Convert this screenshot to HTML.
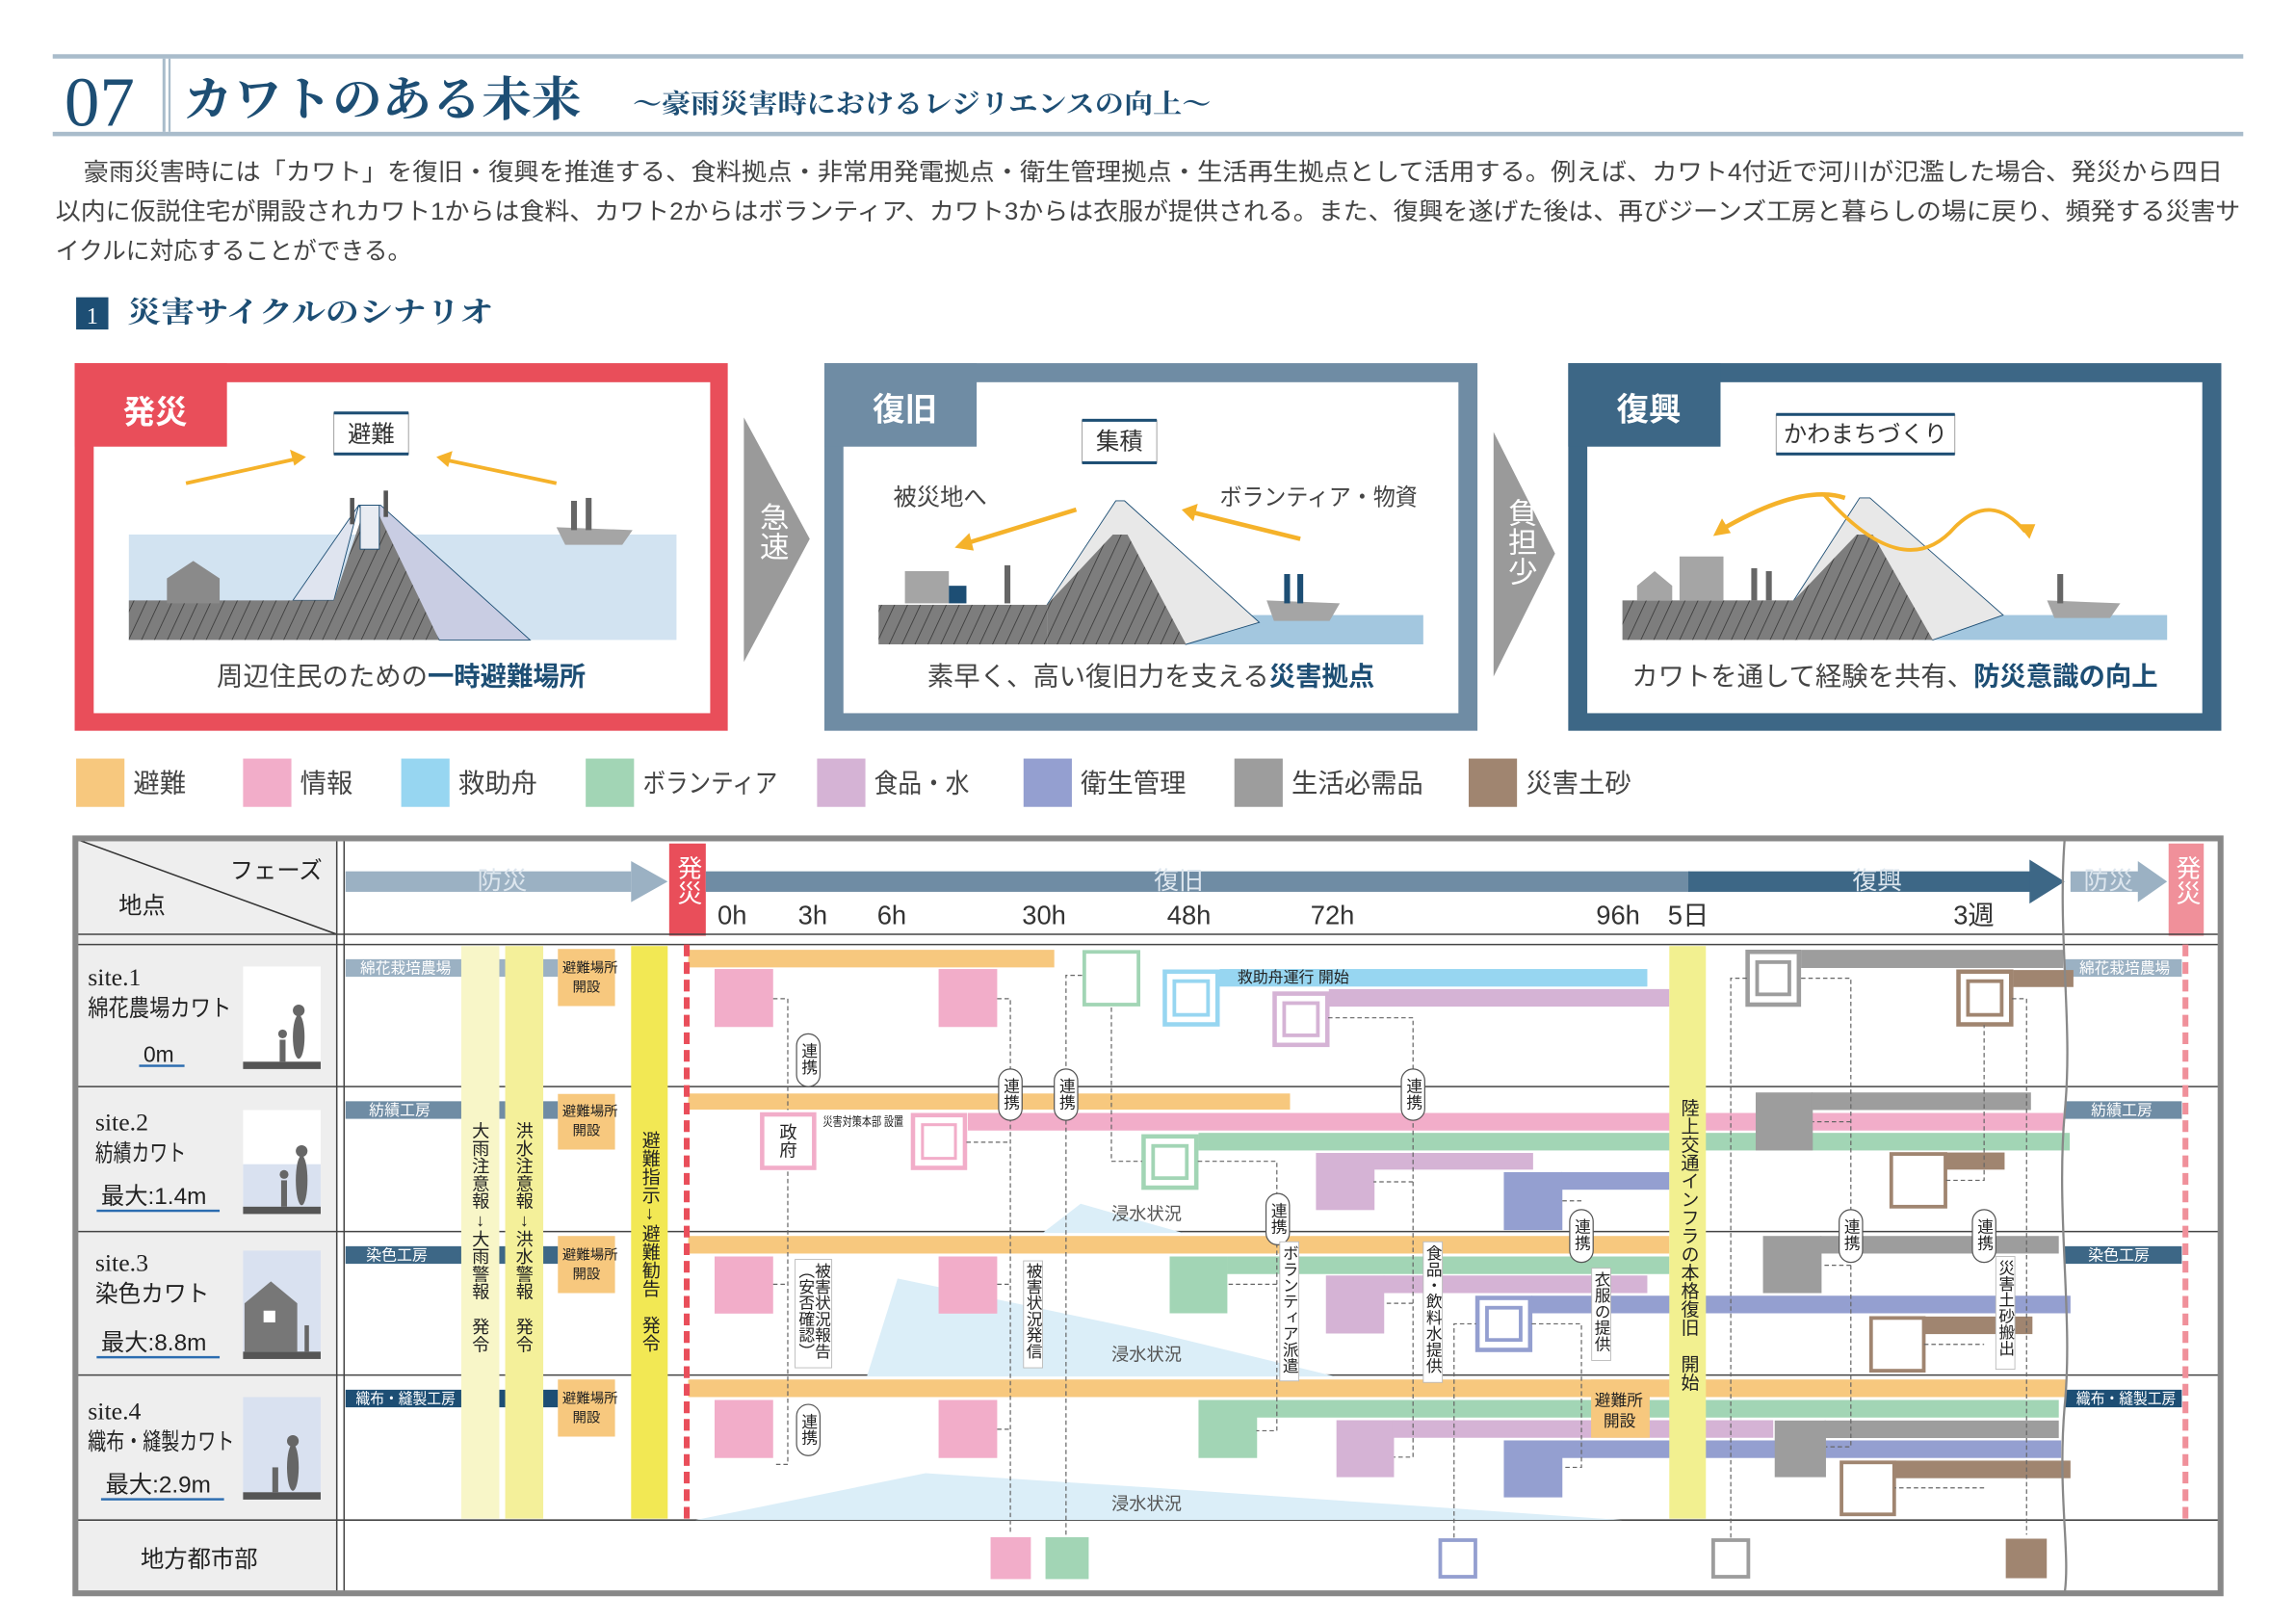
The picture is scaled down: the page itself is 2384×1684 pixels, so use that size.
<!DOCTYPE html>
<html><head><meta charset="utf-8"><style>
html,body{margin:0;padding:0;background:#fff;}
svg{display:block;}
text{font-family:"Liberation Sans","Noto Sans CJK JP",sans-serif;}
.v{writing-mode:vertical-rl;text-orientation:upright;}
.serif{font-family:"Liberation Serif","Noto Serif CJK SC",serif;}
</style></head><body>
<svg width="2384" height="1684" viewBox="0 0 1568 1107.6" preserveAspectRatio="none" xmlns="http://www.w3.org/2000/svg">
<defs>
<pattern id="hatch" width="8" height="8" patternUnits="userSpaceOnUse" patternTransform="rotate(25)">
<rect width="8" height="8" fill="#7d7d7d"/><line x1="0" y1="0" x2="0" y2="8" stroke="#333" stroke-width="1"/>
</pattern>
</defs>
<rect width="1568" height="1108" fill="#fff"/>

<!-- Header -->
<rect x="36" y="37" width="1496" height="3" fill="#a9bccb"/>
<rect x="36" y="90" width="1496" height="3" fill="#a9bccb"/>
<rect x="111" y="40" width="2" height="50" fill="#a9bccb"/>
<rect x="115" y="40" width="1.5" height="50" fill="#a9bccb"/>
<text x="44" y="86" class="serif" font-size="48" fill="#1d4e74">07</text>
<text x="125" y="79" class="serif" font-size="32" font-weight="bold" fill="#1d4e74" textLength="272" lengthAdjust="spacingAndGlyphs">カワトのある未来</text>
<text x="432" y="77" class="serif" font-size="18" font-weight="bold" fill="#1d4e74" textLength="395" lengthAdjust="spacingAndGlyphs">～豪雨災害時におけるレジリエンスの向上～</text>

<!-- paragraph -->
<g font-size="16.5" fill="#444">
<text x="57" y="123" textLength="1461" lengthAdjust="spacingAndGlyphs">豪雨災害時には「カワト」を復旧・復興を推進する、食料拠点・非常用発電拠点・衛生管理拠点・生活再生拠点として活用する。例えば、カワト4付近で河川が氾濫した場合、発災から四日</text>
<text x="38" y="150" textLength="1492" lengthAdjust="spacingAndGlyphs">以内に仮説住宅が開設されカワト1からは食料、カワト2からはボランティア、カワト3からは衣服が提供される。また、復興を遂げた後は、再びジーンズ工房と暮らしの場に戻り、頻発する災害サ</text>
<text x="38" y="177" textLength="243" lengthAdjust="spacingAndGlyphs">イクルに対応することができる。</text>
</g>

<!-- section title -->
<rect x="52" y="203" width="22" height="22" fill="#1d4e74"/>
<text x="63" y="221" text-anchor="middle" font-size="16" fill="#fff" class="serif">1</text>
<text x="87" y="220" class="serif" font-size="20" font-weight="bold" fill="#1d4e74" textLength="250" lengthAdjust="spacingAndGlyphs">災害サイクルのシナリオ</text>

<!-- Panel 1 -->
<rect x="51" y="248" width="446" height="251" fill="#e94e5a"/>
<rect x="64" y="261" width="421" height="226" fill="#fff"/>
<rect x="51" y="248" width="104" height="57" fill="#e94e5a"/>
<text x="84" y="289" font-size="22" font-weight="bold" fill="#fff">発災</text>
<rect x="228" y="282" width="51" height="28" fill="#fff" stroke="#999" stroke-width="0.6"/>
<rect x="228" y="281" width="51" height="2" fill="#1d4e74"/><rect x="228" y="309" width="51" height="2" fill="#1d4e74"/>
<text x="253.5" y="302" text-anchor="middle" font-size="16" fill="#333">避難</text>
<rect x="88" y="365" width="374" height="72" fill="#d2e3f1"/>
<polygon points="245,345 260,345 362,437 300,437" fill="#c9cde3" stroke="#1d4e74" stroke-width="0.6"/>
<polygon points="245,345 200,410 228,410" fill="#dfe4ef" stroke="#1d4e74" stroke-width="0.6"/>
<rect x="88" y="410" width="145" height="27" fill="url(#hatch)"/>
<polygon points="228,437 228,410 248,350 258,350 300,437" fill="url(#hatch)"/>
<rect x="246" y="345" width="13" height="30" fill="#e8ecf2" stroke="#1d4e74" stroke-width="0.6"/>
<polygon points="114,412 114,395 132,383 150,395 150,412" fill="#8a8a8a"/>
<polygon points="380,360 432,362 425,372 386,372" fill="#a5a5a5"/>
<rect x="390" y="342" width="4" height="20" fill="#666"/><rect x="400" y="340" width="4" height="22" fill="#666"/>
<rect x="239" y="340" width="3" height="18" fill="#555"/><rect x="262" y="335" width="3" height="18" fill="#555"/>
<line x1="127" y1="330" x2="204" y2="313" stroke="#f5b22a" stroke-width="2.5"/><polygon points="209,312 198,307 201,318" fill="#f5b22a"/>
<line x1="380" y1="330" x2="304" y2="314" stroke="#f5b22a" stroke-width="2.5"/><polygon points="298,312 309,308 306,319" fill="#f5b22a"/>
<text x="274" y="468" text-anchor="middle" font-size="18" fill="#444">周辺住民のための<tspan font-weight="bold" fill="#1d4e74">一時避難場所</tspan></text>

<!-- chevron 1 -->
<polygon points="508,285 553,368 508,452" fill="#9a9a9a"/>
<text x="527" y="343" class="v" font-size="20" fill="#fff">急速</text>

<!-- Panel 2 -->
<rect x="563" y="248" width="446" height="251" fill="#6f8ca4"/>
<rect x="576" y="261" width="420" height="226" fill="#fff"/>
<rect x="563" y="248" width="104" height="57" fill="#6f8ca4"/>
<text x="596" y="287" font-size="22" font-weight="bold" fill="#fff">復旧</text>
<rect x="739" y="287" width="51" height="29" fill="#fff" stroke="#999" stroke-width="0.6"/>
<rect x="739" y="286" width="51" height="2" fill="#1d4e74"/><rect x="739" y="315" width="51" height="2" fill="#1d4e74"/>
<text x="764.5" y="307" text-anchor="middle" font-size="16" fill="#333">集積</text>
<text x="610" y="345" font-size="16" fill="#444">被災地へ</text>
<text x="833" y="345" font-size="16" fill="#444" textLength="135" lengthAdjust="spacingAndGlyphs">ボランティア・物資</text>
<rect x="800" y="420" width="172" height="20" fill="#a3c7df"/>
<polygon points="762,342 768,342 860,425 810,440 715,413" fill="#e8e8e8" stroke="#1d4e74" stroke-width="0.6"/>
<rect x="600" y="413" width="115" height="27" fill="url(#hatch)"/>
<polygon points="715,440 715,413 760,365 770,365 810,440" fill="url(#hatch)"/>
<rect x="618" y="390" width="30" height="22" fill="#a5a5a5"/><rect x="648" y="400" width="12" height="12" fill="#1d4e74"/>
<rect x="686" y="386" width="4" height="26" fill="#666"/>
<polygon points="865,410 915,412 908,424 870,424" fill="#a5a5a5"/>
<rect x="877" y="392" width="4" height="20" fill="#1d4e74"/><rect x="886" y="392" width="4" height="20" fill="#1d4e74"/>
<line x1="735" y1="348" x2="660" y2="371" stroke="#f5b22a" stroke-width="3"/><polygon points="652,374 662,364 665,376" fill="#f5b22a"/>
<line x1="888" y1="368" x2="815" y2="350" stroke="#f5b22a" stroke-width="3"/><polygon points="807,348 818,344 815,356" fill="#f5b22a"/>
<text x="786" y="468" text-anchor="middle" font-size="18" fill="#444">素早く、高い復旧力を支える<tspan font-weight="bold" fill="#1d4e74">災害拠点</tspan></text>

<!-- chevron 2 -->
<polygon points="1020,295 1062,378 1020,462" fill="#9a9a9a"/>
<text x="1038" y="340" class="v" font-size="20" fill="#fff">負担少</text>

<!-- Panel 3 -->
<rect x="1071" y="248" width="446" height="251" fill="#3d6786"/>
<rect x="1084" y="261" width="420" height="226" fill="#fff"/>
<rect x="1071" y="248" width="104" height="57" fill="#3d6786"/>
<text x="1104" y="287" font-size="22" font-weight="bold" fill="#fff">復興</text>
<rect x="1213" y="283" width="122" height="27" fill="#fff" stroke="#999" stroke-width="0.6"/>
<rect x="1213" y="282" width="122" height="2" fill="#1d4e74"/><rect x="1213" y="309" width="122" height="2" fill="#1d4e74"/>
<text x="1274" y="302" text-anchor="middle" font-size="16" fill="#333">かわまちづくり</text>
<rect x="1310" y="420" width="170" height="17" fill="#a3c7df"/>
<polygon points="1270,340 1277,340 1368,420 1320,437 1225,410" fill="#e8e8e8" stroke="#1d4e74" stroke-width="0.6"/>
<rect x="1108" y="410" width="120" height="27" fill="url(#hatch)"/>
<polygon points="1225,437 1225,410 1268,365 1279,365 1320,437" fill="url(#hatch)"/>
<rect x="1147" y="380" width="30" height="30" fill="#a5a5a5"/>
<polygon points="1118,410 1118,400 1130,390 1142,400 1142,410" fill="#a5a5a5"/>
<rect x="1196" y="388" width="4" height="22" fill="#666"/><rect x="1206" y="390" width="4" height="20" fill="#666"/>
<polygon points="1398,410 1448,412 1441,422 1403,422" fill="#a5a5a5"/><rect x="1405" y="392" width="4" height="20" fill="#666"/>
<path d="M1260,340 Q1230,330 1175,362" stroke="#f5b22a" stroke-width="3" fill="none"/><polygon points="1170,366 1176,354 1182,364" fill="#f5b22a"/>
<path d="M1245,337 Q1300,400 1335,360 Q1360,335 1383,363" stroke="#f5b22a" stroke-width="2.5" fill="none"/><polygon points="1386,368 1378,358 1390,358" fill="#f5b22a"/>
<text x="1294" y="468" text-anchor="middle" font-size="18" fill="#444">カワトを通して経験を共有、<tspan font-weight="bold" fill="#1d4e74">防災意識の向上</tspan></text>

<!-- Legend -->
<g font-size="18" fill="#444">
<rect x="52" y="518" width="33" height="33" fill="#f7c87e"/><text x="91" y="541">避難</text>
<rect x="166" y="518" width="33" height="33" fill="#f2adc9"/><text x="205" y="541">情報</text>
<rect x="274" y="518" width="33" height="33" fill="#97d6f1"/><text x="313" y="541">救助舟</text>
<rect x="400" y="518" width="33" height="33" fill="#a2d5b5"/><text x="439" y="541" textLength="92" lengthAdjust="spacingAndGlyphs">ボランティア</text>
<rect x="558" y="518" width="33" height="33" fill="#d5b3d5"/><text x="597" y="541" textLength="65" lengthAdjust="spacingAndGlyphs">食品・水</text>
<rect x="699" y="518" width="33" height="33" fill="#949fd0"/><text x="738" y="541">衛生管理</text>
<rect x="843" y="518" width="33" height="33" fill="#9d9d9d"/><text x="882" y="541">生活必需品</text>
<rect x="1003" y="518" width="33" height="33" fill="#a08570"/><text x="1042" y="541">災害土砂</text>
</g>

<!-- TABLE -->
<rect x="52" y="573" width="178" height="515" fill="#eeeeee"/>
<line x1="52" y1="573" x2="230" y2="638" stroke="#333" stroke-width="1"/>
<text x="157" y="600" font-size="16" fill="#222">フェーズ</text>
<text x="81" y="624" font-size="16" fill="#222">地点</text>

<!-- header arrows -->
<rect x="236" y="595" width="195" height="14" fill="#9bb1c3"/>
<polygon points="431,588 456,602 431,616" fill="#9bb1c3"/>
<text x="343" y="607" text-anchor="middle" font-size="17" fill="#dde6ee">防災</text>
<rect x="457" y="576" width="25" height="63" fill="#e94e5a"/>
<text x="469.5" y="584" class="v" font-size="17" fill="#fff">発災</text>
<rect x="482" y="595" width="672" height="14" fill="#6f8ca4"/>
<rect x="1153" y="595" width="235" height="14" fill="#3d6786"/>
<polygon points="1386,587 1410,602 1386,617" fill="#3d6786"/>
<text x="805" y="607" text-anchor="middle" font-size="17" fill="#dde6ee">復旧</text>
<text x="1282" y="607" text-anchor="middle" font-size="17" fill="#dde6ee">復興</text>
<rect x="1414" y="595" width="48" height="14" fill="#9bb1c3"/>
<polygon points="1460,588 1480,602 1460,616" fill="#9bb1c3"/>
<text x="1440" y="607" text-anchor="middle" font-size="17" fill="#dde6ee">防災</text>
<rect x="1481" y="576" width="24" height="63" fill="#f0909a"/>
<text x="1493" y="584" class="v" font-size="17" fill="#fff">発災</text>
<g font-size="18" fill="#333">
<text x="490" y="631">0h</text><text x="545" y="631">3h</text><text x="599" y="631">6h</text><text x="698" y="631">30h</text>
<text x="797" y="631">48h</text><text x="895" y="631">72h</text><text x="1090" y="631">96h</text><text x="1139" y="631">5日</text><text x="1334" y="631">3週</text>
</g>

<!-- grid lines -->
<g stroke="#444" stroke-width="1">
<line x1="52" y1="638" x2="1516" y2="638"/><line x1="52" y1="645" x2="1516" y2="645"/>
<line x1="52" y1="742" x2="1516" y2="742"/>
<line x1="52" y1="841" x2="1516" y2="841"/>
<line x1="52" y1="939" x2="1516" y2="939"/>
<line x1="52" y1="1038" x2="1516" y2="1038"/>
<line x1="230" y1="573" x2="230" y2="1088"/><line x1="235" y1="573" x2="235" y2="1088"/>
</g>

<!-- left column -->
<g fill="#222">
<text x="60" y="673" font-size="17" class="serif">site.1</text><text x="60" y="694" font-size="16" textLength="98" lengthAdjust="spacingAndGlyphs">綿花農場カワト</text>
<text x="98" y="725" font-size="15">0m</text><rect x="95" y="727" width="31" height="1.6" fill="#2b6cb0"/>
<text x="65" y="772" font-size="17" class="serif">site.2</text><text x="65" y="793" font-size="16" textLength="62" lengthAdjust="spacingAndGlyphs">紡績カワト</text>
<text x="69" y="822" font-size="16">最大:1.4m</text><rect x="66" y="826" width="84" height="1.6" fill="#2b6cb0"/>
<text x="65" y="868" font-size="17" class="serif">site.3</text><text x="65" y="889" font-size="16" textLength="78" lengthAdjust="spacingAndGlyphs">染色カワト</text>
<text x="69" y="922" font-size="16">最大:8.8m</text><rect x="66" y="926" width="84" height="1.6" fill="#2b6cb0"/>
<text x="60" y="969" font-size="17" class="serif">site.4</text><text x="60" y="990" font-size="16" textLength="100" lengthAdjust="spacingAndGlyphs">織布・縫製カワト</text>
<text x="72" y="1019" font-size="16">最大:2.9m</text><rect x="69" y="1023" width="84" height="1.6" fill="#2b6cb0"/>
<text x="96" y="1070" font-size="16">地方都市部</text>
</g>
<!-- icons -->
<rect x="166" y="660" width="53" height="70" fill="#fff"/><rect x="166" y="725" width="53" height="5" fill="#555"/>
<ellipse cx="204" cy="708" rx="4" ry="15" fill="#666"/><circle cx="204" cy="690" r="4" fill="#666"/><rect x="191" y="710" width="4" height="15" fill="#666"/><circle cx="193" cy="706" r="3" fill="#666"/>
<rect x="166" y="758" width="53" height="71" fill="#fff"/><rect x="166" y="795" width="53" height="29" fill="#d9e1f0"/><rect x="166" y="824" width="53" height="5" fill="#555"/>
<ellipse cx="206" cy="806" rx="4" ry="17" fill="#666"/><circle cx="206" cy="786" r="4" fill="#666"/><rect x="192" y="806" width="4" height="18" fill="#666"/><circle cx="194" cy="802" r="3" fill="#666"/>
<rect x="166" y="854" width="53" height="74" fill="#d9e1f0"/><rect x="166" y="923" width="53" height="5" fill="#555"/>
<polygon points="167,923 167,890 185,875 203,890 203,923" fill="#777"/><rect x="180" y="895" width="8" height="8" fill="#fff"/><rect x="208" y="905" width="3" height="18" fill="#666"/>
<rect x="166" y="954" width="53" height="70" fill="#d9e1f0"/><rect x="166" y="1019" width="53" height="5" fill="#555"/>
<ellipse cx="200" cy="1002" rx="4" ry="16" fill="#666"/><circle cx="200" cy="984" r="4" fill="#666"/><rect x="186" y="1002" width="4" height="17" fill="#666"/>

<!-- flood areas -->
<polygon points="712,842 738,822 808,842" fill="#dbeef8"/>
<polygon points="592,940 613,873 789,910 912,940" fill="#dbeef8"/>
<polygon points="475,1038 632,1006 789,1016 1108,1038" fill="#dbeef8"/>
<g font-size="12" fill="#555"><text x="759" y="833">浸水状況</text><text x="759" y="929">浸水状況</text><text x="759" y="1031">浸水状況</text></g>

<!-- site tag bars left -->
<rect x="236" y="655" width="145" height="12" fill="#9bb1c3"/>
<rect x="236" y="752" width="145" height="12" fill="#6f8ca4"/>
<rect x="236" y="851" width="145" height="12" fill="#3d6786"/>
<rect x="236" y="949" width="145" height="12" fill="#1d4e74"/>
<g font-size="10.5" fill="#fff">
<text x="246" y="664.5" textLength="62" lengthAdjust="spacingAndGlyphs">綿花栽培農場</text><text x="252" y="761.5">紡績工房</text><text x="250" y="860.5">染色工房</text><text x="243" y="958.5" textLength="68" lengthAdjust="spacingAndGlyphs">織布・縫製工房</text>
</g>
<!-- right tags -->
<rect x="1410" y="655" width="80" height="12" fill="#9bb1c3"/>
<rect x="1410" y="752" width="80" height="12" fill="#6f8ca4"/>
<rect x="1410" y="851" width="80" height="12" fill="#3d6786"/>
<rect x="1410" y="949" width="80" height="12" fill="#1d4e74"/>
<g font-size="10.5" fill="#fff">
<text x="1420" y="664.5" textLength="62" lengthAdjust="spacingAndGlyphs">綿花栽培農場</text><text x="1428" y="761.5">紡績工房</text><text x="1426" y="860.5">染色工房</text><text x="1418" y="958.5" textLength="68" lengthAdjust="spacingAndGlyphs">織布・縫製工房</text>
</g>

<!-- yellow columns -->
<rect x="315" y="646" width="26" height="391" fill="#f8f6c8"/>
<rect x="345" y="646" width="26" height="391" fill="#f4f09a"/>
<rect x="431" y="646" width="25" height="391" fill="#f2e854"/>
<g font-size="12" fill="#222">
<text x="328" y="766" class="v">大雨注意報↓大雨警報　発令</text>
<text x="358" y="766" class="v">洪水注意報↓洪水警報　発令</text>
<text x="443.5" y="772" class="v" font-size="12.5">避難指示↓避難勧告　発令</text>
</g>
<!-- orange open boxes -->
<g fill="#f7c87e"><rect x="381" y="648" width="39" height="39"/><rect x="381" y="747" width="39" height="38"/><rect x="381" y="844" width="39" height="39"/><rect x="381" y="942" width="39" height="39"/></g>
<g font-size="9.5" fill="#222">
<text x="384" y="664">避難場所</text><text x="391" y="677">開設</text>
<text x="384" y="762">避難場所</text><text x="391" y="775">開設</text>
<text x="384" y="860">避難場所</text><text x="391" y="873">開設</text>
<text x="384" y="958">避難場所</text><text x="391" y="971">開設</text>
</g>

<!-- orange bars -->
<g fill="#f7c87e">
<rect x="470" y="648.6" width="250" height="12"/>
<rect x="470" y="746.7" width="411" height="11"/>
<rect x="470" y="844" width="670" height="12"/>
<rect x="470" y="942" width="941" height="12"/>
</g>
<!-- pink bar row2 -->
<rect x="661" y="760" width="748" height="12" fill="#f2adc9"/>
<!-- pink boxes -->
<g fill="#f2adc9">
<rect x="488" y="661.7" width="40" height="39.6"/><rect x="641" y="661.7" width="40" height="39.6"/>
<rect x="488" y="858" width="40" height="39"/><rect x="641" y="858" width="40" height="39"/>
<rect x="488" y="956" width="40" height="39.6"/><rect x="641" y="956" width="40" height="39.6"/>
<rect x="676.5" y="1049.7" width="27.5" height="28.6"/>
</g>
<rect x="714" y="1049.7" width="29.5" height="28.6" fill="#a2d5b5"/>
<!-- 政府 -->
<rect x="520.5" y="761" width="35.5" height="36.5" fill="#fff" stroke="#f2adc9" stroke-width="3"/>
<text x="538" y="767" class="v" font-size="12" fill="#222">政府</text>
<text x="562" y="769" font-size="8.5" fill="#222" textLength="55" lengthAdjust="spacingAndGlyphs">災害対策本部 設置</text>
<rect x="623.5" y="761.5" width="35.5" height="36" fill="#fff" stroke="#f2adc9" stroke-width="3"/>
<rect x="630" y="768" width="22.5" height="23" fill="#fff" stroke="#f2adc9" stroke-width="2"/>

<!-- row1 misc -->
<rect x="740.5" y="650" width="37" height="36" fill="#fff" stroke="#a2d5b5" stroke-width="2.5"/>
<rect x="833" y="661.7" width="292" height="12" fill="#97d6f1"/>
<text x="845" y="671" font-size="10.5" fill="#222">救助舟運行 開始</text>
<rect x="795.5" y="663.5" width="36" height="36" fill="#fff" stroke="#97d6f1" stroke-width="3"/>
<rect x="802" y="670" width="23" height="23" fill="#fff" stroke="#97d6f1" stroke-width="2.5"/>
<rect x="907.5" y="675.4" width="232.5" height="12" fill="#d5b3d5"/>
<rect x="870.5" y="678.5" width="36" height="35" fill="#fff" stroke="#d5b3d5" stroke-width="3"/>
<rect x="877" y="685" width="23" height="22" fill="#fff" stroke="#d5b3d5" stroke-width="2.5"/>
<rect x="1230" y="648.6" width="179" height="12.4" fill="#9d9d9d"/>
<rect x="1193.5" y="650" width="35" height="36" fill="#fff" stroke="#9d9d9d" stroke-width="3"/>
<rect x="1200" y="657" width="22" height="22" fill="#fff" stroke="#9d9d9d" stroke-width="2.5"/>
<rect x="1375" y="662.4" width="41" height="11.6" fill="#a08570"/>
<rect x="1337.5" y="663.5" width="36" height="36" fill="#fff" stroke="#a08570" stroke-width="3"/>
<rect x="1344" y="670" width="23" height="23" fill="#fff" stroke="#a08570" stroke-width="2.5"/>

<!-- row2 -->
<rect x="818.5" y="773.6" width="595" height="12" fill="#a2d5b5"/>
<rect x="781" y="776" width="36" height="35" fill="#fff" stroke="#a2d5b5" stroke-width="3"/>
<rect x="787.5" y="782.5" width="23" height="22" fill="#fff" stroke="#a2d5b5" stroke-width="2.5"/>
<rect x="898.7" y="787.3" width="40" height="39" fill="#d5b3d5"/><rect x="938" y="787.3" width="109" height="11.4" fill="#d5b3d5"/>
<rect x="1027" y="800.4" width="40" height="39.6" fill="#949fd0"/><rect x="1066" y="800.4" width="74" height="12" fill="#949fd0"/>
<rect x="1199" y="746" width="39" height="39.6" fill="#9d9d9d"/><rect x="1237" y="746" width="150" height="12" fill="#9d9d9d"/>
<rect x="1329" y="787" width="40" height="11.7" fill="#a08570"/>
<rect x="1291.6" y="788" width="37" height="36" fill="#fff" stroke="#a08570" stroke-width="2.5"/>

<!-- row3 -->
<rect x="798.8" y="858" width="39.4" height="38.8" fill="#a2d5b5"/><rect x="838" y="858" width="302" height="12" fill="#a2d5b5"/>
<rect x="905.5" y="871" width="39.8" height="39.6" fill="#d5b3d5"/><rect x="945" y="871" width="180" height="12" fill="#d5b3d5"/>
<rect x="1046" y="884.8" width="368" height="12" fill="#949fd0"/>
<rect x="1009" y="886.3" width="36" height="35.5" fill="#fff" stroke="#949fd0" stroke-width="3"/>
<rect x="1015.5" y="893" width="23" height="22" fill="#fff" stroke="#949fd0" stroke-width="2.5"/>
<rect x="1204" y="844" width="40" height="39" fill="#9d9d9d"/><rect x="1243" y="844" width="163" height="12" fill="#9d9d9d"/>
<rect x="1314" y="899" width="74" height="12" fill="#a08570"/>
<rect x="1277.8" y="900" width="36" height="36" fill="#fff" stroke="#a08570" stroke-width="2.5"/>

<!-- row4 -->
<rect x="818.5" y="956" width="40" height="39.6" fill="#a2d5b5"/><rect x="858" y="956" width="548" height="12" fill="#a2d5b5"/>
<rect x="912.7" y="969.8" width="39.3" height="38.9" fill="#d5b3d5"/><rect x="951" y="969.8" width="260" height="12" fill="#d5b3d5"/>
<rect x="1027" y="983.6" width="40" height="38.9" fill="#949fd0"/><rect x="1066" y="983.6" width="341.6" height="12" fill="#949fd0"/>
<rect x="1212" y="970" width="35" height="38.7" fill="#9d9d9d"/><rect x="1246" y="970" width="160" height="12" fill="#9d9d9d"/>
<rect x="1294" y="997.4" width="120" height="12" fill="#a08570"/>
<rect x="1257.6" y="998.6" width="36" height="35.5" fill="#fff" stroke="#a08570" stroke-width="2.5"/>
<rect x="1086.6" y="942" width="40" height="39.8" fill="#f7c87e"/>
<text x="1089" y="960" font-size="11" fill="#222">避難所</text><text x="1095" y="974" font-size="11" fill="#222">開設</text>

<!-- 地方 boxes -->
<rect x="983.6" y="1051.7" width="24" height="25" fill="#fff" stroke="#949fd0" stroke-width="2.5"/>
<rect x="1170" y="1051.7" width="24" height="25" fill="#fff" stroke="#9d9d9d" stroke-width="2.5"/>
<rect x="1369.8" y="1050.7" width="28" height="27" fill="#a08570"/>

<!-- 陸上交通 column -->
<rect x="1140" y="646" width="25" height="391" fill="#f2f090"/>
<text x="1153" y="750" class="v" font-size="12.5" fill="#222">陸上交通インフラの本格復旧　開始</text>

<!-- dashed connectors -->
<g stroke="#666" stroke-width="0.8" stroke-dasharray="3,2" fill="none">
<path d="M528,682 H538 V758"/>
<path d="M538,800 V1000 H528"/><path d="M528,877 H538"/>
<path d="M681,682 H690 V1048"/><path d="M681,877 H690"/><path d="M681,976 H690"/>
<path d="M739,666 H728 V1048"/>
<path d="M660,780 H690"/>
<path d="M759,688 V793 H780"/>
<path d="M818,793 H872 V977 H858"/><path d="M872,877 H838"/>
<path d="M907,695 H965 V995 H952"/><path d="M965,807 H938"/><path d="M965,890 H945"/>
<path d="M1046,904 H1080 V1002 H1067"/><path d="M1080,820 H1067"/>
<path d="M993,1050 V904 H1008"/>
<path d="M1182,1050 V668 H1193"/>
<path d="M1230,668 H1264 V988 H1247"/><path d="M1264,766 H1238"/><path d="M1264,864 H1244"/>
<path d="M1329,806 H1355 V700"/><path d="M1355,1016 H1294"/><path d="M1314,918 H1355"/>
<path d="M1374,682 H1384 V1048"/>
</g>

<!-- 連携 ovals -->
<g fill="#fff" stroke="#555" stroke-width="0.8">
<rect x="544" y="706" width="16" height="36" rx="8"/>
<rect x="544" y="959" width="16" height="35" rx="8"/>
<rect x="682" y="730" width="16" height="35" rx="8"/>
<rect x="720" y="730" width="16" height="35" rx="8"/>
<rect x="957" y="730" width="16" height="35" rx="8"/>
<rect x="864.6" y="815" width="16" height="35" rx="8"/>
<rect x="1072" y="826" width="16" height="36" rx="8"/>
<rect x="1256" y="826" width="16" height="36" rx="8"/>
<rect x="1347" y="826" width="16" height="36" rx="8"/>
</g>
<g font-size="11" fill="#222">
<text x="552" y="712" class="v">連携</text><text x="552" y="965" class="v">連携</text>
<text x="690" y="736" class="v">連携</text><text x="728" y="736" class="v">連携</text>
<text x="965" y="736" class="v">連携</text><text x="872.6" y="821" class="v">連携</text>
<text x="1080" y="832" class="v">連携</text><text x="1264" y="832" class="v">連携</text><text x="1355" y="832" class="v">連携</text>
</g>
<!-- vertical labels -->
<g fill="#fff" stroke="#bbb" stroke-width="0.6">
<rect x="543" y="860" width="25" height="74"/><rect x="699" y="861" width="13" height="73"/>
<rect x="874" y="848" width="13" height="95"/><rect x="972" y="848" width="13" height="96"/>
<rect x="1087" y="866" width="13" height="63"/><rect x="1363" y="858" width="13" height="77"/>
</g>
<g font-size="11" fill="#222">
<text x="561" y="862" class="v">被害状況報告</text><text x="550" y="862" class="v">（安否確認）</text>
<text x="705.5" y="862" class="v">被害状況発信</text>
<text x="880.5" y="850" class="v">ボランティア派遣</text>
<text x="978.5" y="850" class="v">食品・飲料水提供</text>
<text x="1093.5" y="868" class="v">衣服の提供</text>
<text x="1369.5" y="860" class="v">災害土砂搬出</text>
</g>

<!-- red dashed lines -->
<line x1="469" y1="645" x2="469" y2="1037" stroke="#e94e5a" stroke-width="4" stroke-dasharray="8,4"/>
<line x1="1492.5" y1="645" x2="1492.5" y2="1037" stroke="#f0909a" stroke-width="4" stroke-dasharray="8,4"/>

<!-- wavy separator -->
<path d="M1410,573 C1405,640 1416,700 1410,760 C1404,830 1416,900 1410,960 C1405,1020 1414,1060 1410,1088" stroke="#888" stroke-width="1.5" fill="none"/>

<!-- outer border -->
<rect x="51.5" y="572.5" width="1465" height="515.5" fill="none" stroke="#888" stroke-width="4"/>
</svg>
</body></html>
